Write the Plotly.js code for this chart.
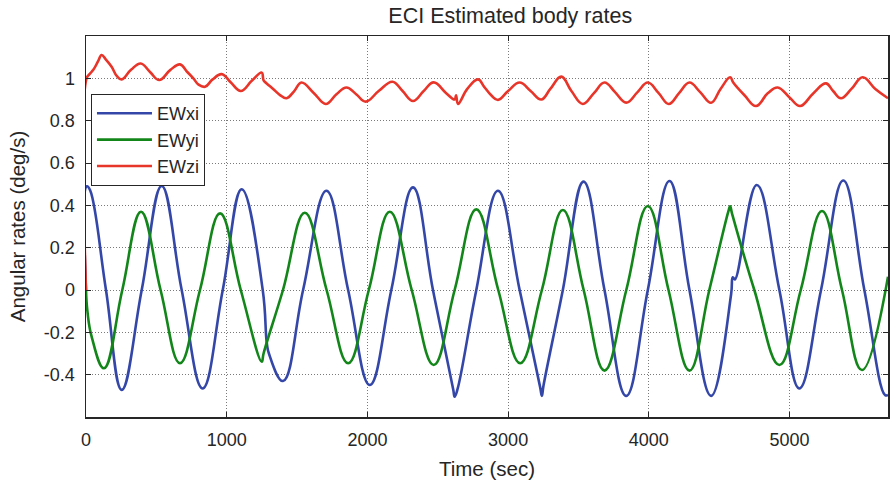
<!DOCTYPE html>
<html>
<head>
<meta charset="utf-8">
<script src="https://cdn.plot.ly/plotly-3.0.1.min.js"></script>
<style>html,body{margin:0;padding:0;background:#fff;}#chart{width:891px;height:484px;}</style>
</head>
<body>
<div id="chart"></div>
<script>
// Time (sec) and values (deg/s)
const xiT = [0,6,30,142,254,396,538,680,829,972,1107,1256,1285,1300,1400,1543,1709,1863,2017,2170,2324,2466,2610,2620,2640,2774,2928,3082,3228,3240,3252,3389,3536,3685,3839,3993,4147,4289,4443,4585,4597,4612,4767,4928,5070,5224,5382,5532,5680,5700];
const xiV = [0,0.49,0.47,0,-0.472,0,0.491,0,-0.465,0,0.476,0,-0.25,-0.30,-0.43,0,0.469,0,-0.449,0,0.485,0,-0.47,-0.504,-0.47,0,0.469,0,-0.46,-0.50,-0.45,0,0.512,0,-0.50,0,0.515,0,-0.50,-0.02,0.06,0.05,0.496,0,-0.465,0,0.517,0,-0.497,-0.495];

const yiT = [0,10,40,128,258,391,530,668,810,953,1100,1249,1262,1400,1555,1710,1863,2010,2159,2315,2471,2620,2774,2930,3086,3240,3389,3537,3685,3840,3993,4140,4289,4430,4565,4578,4592,4750,4928,5080,5231,5373,5515,5700];
const yiV = [0,-0.1,-0.22,-0.37,0,0.37,0,-0.346,0,0.362,0,-0.339,-0.30,0,0.365,0,-0.346,0,0.37,0,-0.354,0,0.381,0,-0.346,0,0.378,0,-0.381,0,0.397,0,-0.381,0,0.37,0.395,0.36,0,-0.354,0,0.373,0,-0.378,0.063];

const ziT = [0,4,25,52,85,111,140,182,220,254,320,389,455,521,600,668,720,763,800,846,900,964,1030,1100,1180,1249,1262,1284,1330,1379,1425,1480,1531,1620,1704,1780,1851,1920,1988,2080,2178,2250,2324,2400,2471,2560,2620,2630,2644,2710,2786,2830,2880,2928,3000,3082,3160,3236,3300,3378,3450,3531,3610,3685,3760,3839,3920,3993,4070,4142,4215,4289,4365,4443,4510,4578,4600,4680,4762,4845,4916,5000,5075,5170,5259,5310,5366,5440,5520,5610,5700];
const ziV = [0,1.0,1.02,1.04,1.08,1.11,1.09,1.055,1.01,0.995,1.04,1.07,1.03,0.992,1.04,1.066,1.03,1.0,0.97,0.96,0.995,1.02,0.98,0.94,0.99,1.027,0.99,0.976,0.95,0.921,0.906,0.94,0.98,0.93,0.879,0.925,0.957,0.925,0.89,0.94,0.984,0.94,0.893,0.94,0.981,0.93,0.90,0.92,0.879,0.95,0.995,0.96,0.92,0.898,0.94,0.98,0.94,0.90,0.95,1.008,0.94,0.879,0.93,0.98,0.935,0.885,0.935,0.98,0.93,0.879,0.93,0.98,0.935,0.885,0.95,1.005,0.98,0.92,0.869,0.929,0.957,0.91,0.869,0.93,0.976,0.94,0.906,0.95,1.005,0.95,0.906];

const names = ['EWxi','EWyi','EWzi'];
const colors = ['#3447a8','#13861a','#e8352a'];
const yTickVals = [-0.4,-0.2,0,0.2,0.4,0.6,0.8,1];
const yTickText = ['-0.4','-0.2','0','0.2','0.4','0.6','0.8','1'];
const xTickVals = [0,1000,2000,3000,4000,5000];

const series = [[xiT,xiV],[yiT,yiV],[ziT,ziV]];
const traces = series.map((s,i)=>({
  x: s[0], y: s[1], type:'scatter', mode:'lines', name: names[i],
  line:{color: colors[i], width:2.6, shape:'spline', smoothing:1.2}
}));

const font = 'Liberation Sans, Arial, sans-serif';
const gridDash = '1px,2px';
const layout = {
  width:891, height:484,
  margin:{l:86, r:3, t:36, b:67, pad:0},
  paper_bgcolor:'#fff', plot_bgcolor:'#fff',
  font:{family:font, size:18, color:'#262626'},
  title:{text:'ECI Estimated body rates', font:{family:font, size:21.5, color:'#262626'},
         x:0.529, xref:'paper', xanchor:'center', y:0.969, yref:'container', yanchor:'middle'},
  xaxis:{range:[0,5700], tickmode:'array', tickvals:xTickVals, ticktext:xTickVals.map(String),
         ticks:'inside', ticklen:5, tickcolor:'#262626', showline:true, linecolor:'#262626', linewidth:1.5,
         mirror:'ticks', showgrid:true, gridcolor:'#7a7a7a', griddash:gridDash, gridwidth:1, zeroline:false,
         ticklabelstandoff:6, tickfont:{size:18},
         title:{text:'Time (sec)', font:{size:20.5}, standoff:12}},
  yaxis:{range:[-0.6,1.2], tickmode:'array', tickvals:yTickVals, ticktext:yTickText,
         ticks:'inside', ticklen:5, tickcolor:'#262626', showline:true, linecolor:'#262626', linewidth:1.5,
         mirror:'ticks', showgrid:true, gridcolor:'#7a7a7a', griddash:gridDash, gridwidth:1, zeroline:false,
         ticklabelstandoff:6, tickfont:{size:18},
         title:{text:'Angular rates (deg/s)', font:{size:20.5}, standoff:12}},
  showlegend:true,
  legend:{x:0.0062, y:0.8477, xanchor:'left', yanchor:'top', bgcolor:'#fff', bordercolor:'#262626', borderwidth:1,
          font:{size:18, family:font, color:'#262626'}, itemwidth:55}
};
Plotly.newPlot('chart', traces, layout, {displayModeBar:false, staticPlot:true});
</script>
</body>
</html>
